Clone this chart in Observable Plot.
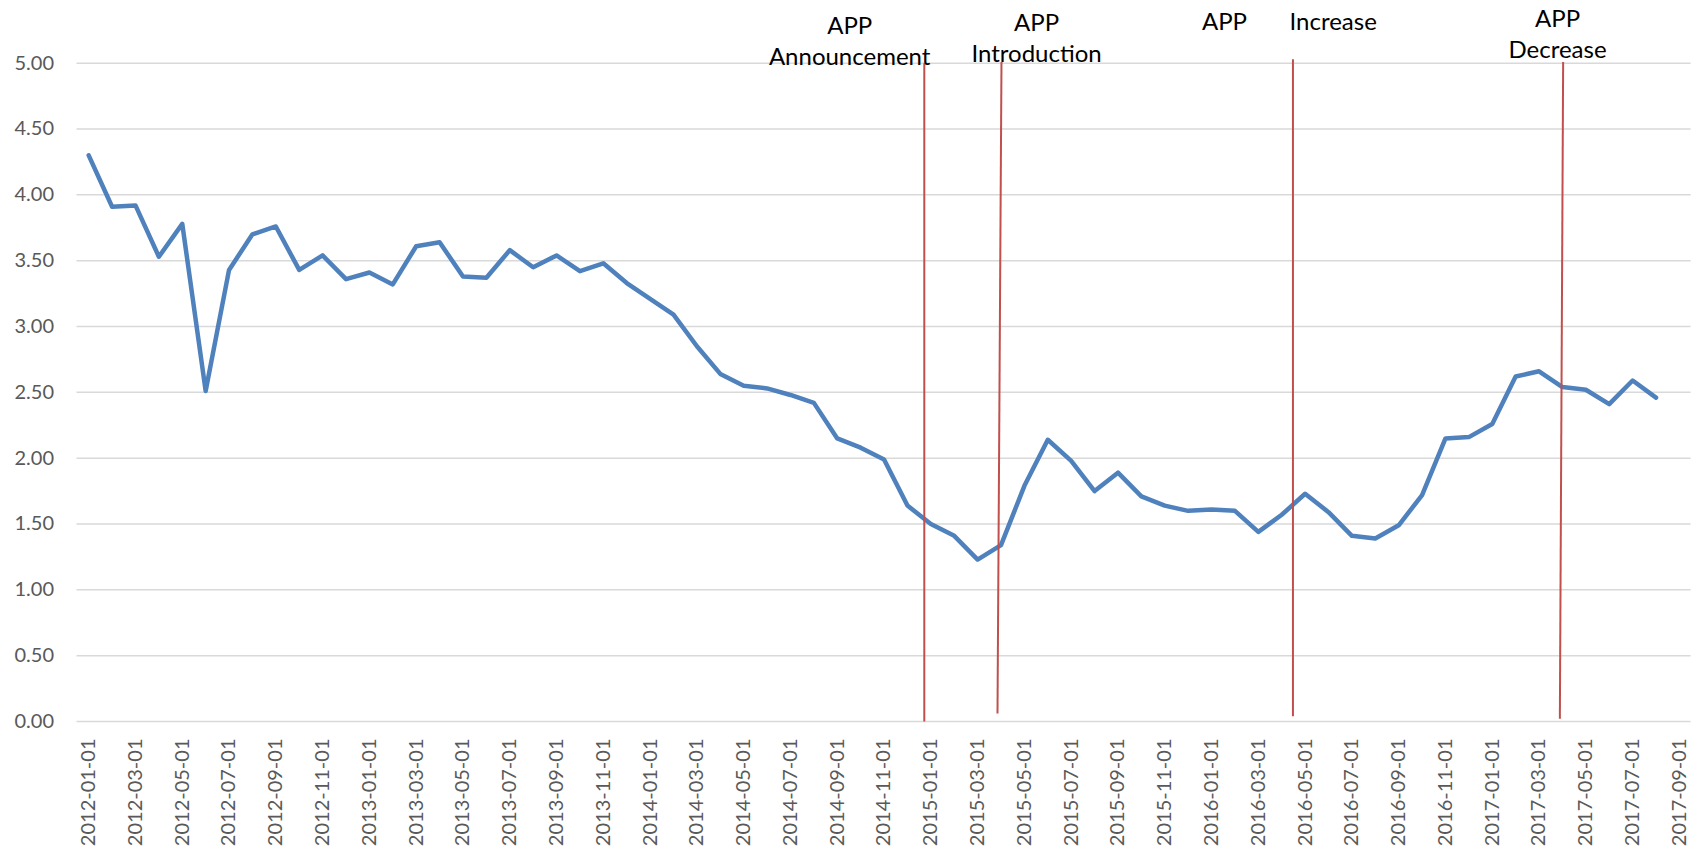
<!DOCTYPE html>
<html>
<head>
<meta charset="utf-8">
<script src="https://cdn.jsdelivr.net/npm/d3@7"></script>
<script src="https://cdn.jsdelivr.net/npm/@observablehq/plot@0.6"></script>
<style>
  html, body { margin: 0; padding: 0; background: #fff; }
  svg { display: block; }
</style>
</head>
<body>
<div id="chart"></div>
<script>
// Category labels (monthly, Excel text axis)
const months = [
  "2012-01-01","2012-02-01","2012-03-01","2012-04-01","2012-05-01","2012-06-01",
  "2012-07-01","2012-08-01","2012-09-01","2012-10-01","2012-11-01","2012-12-01",
  "2013-01-01","2013-02-01","2013-03-01","2013-04-01","2013-05-01","2013-06-01",
  "2013-07-01","2013-08-01","2013-09-01","2013-10-01","2013-11-01","2013-12-01",
  "2014-01-01","2014-02-01","2014-03-01","2014-04-01","2014-05-01","2014-06-01",
  "2014-07-01","2014-08-01","2014-09-01","2014-10-01","2014-11-01","2014-12-01",
  "2015-01-01","2015-02-01","2015-03-01","2015-04-01","2015-05-01","2015-06-01",
  "2015-07-01","2015-08-01","2015-09-01","2015-10-01","2015-11-01","2015-12-01",
  "2016-01-01","2016-02-01","2016-03-01","2016-04-01","2016-05-01","2016-06-01",
  "2016-07-01","2016-08-01","2016-09-01","2016-10-01","2016-11-01","2016-12-01",
  "2017-01-01","2017-02-01","2017-03-01","2017-04-01","2017-05-01","2017-06-01",
  "2017-07-01","2017-08-01","2017-09-01"
];

// Series values (2012-01 .. 2017-08)
const values = [
  4.30, 3.91, 3.92, 3.53, 3.78, 2.51, 3.43, 3.70, 3.76, 3.43, 3.54, 3.36,
  3.41, 3.32, 3.61, 3.64, 3.38, 3.37, 3.58, 3.45, 3.54, 3.42, 3.48, 3.33,
  3.21, 3.09, 2.85, 2.64, 2.55, 2.53, 2.48, 2.42, 2.15, 2.08, 1.99, 1.64,
  1.50, 1.41, 1.23, 1.34, 1.79, 2.14, 1.98, 1.75, 1.89, 1.71, 1.64, 1.60,
  1.61, 1.60, 1.44, 1.57, 1.73, 1.59, 1.41, 1.39, 1.49, 1.72, 2.15, 2.16,
  2.26, 2.62, 2.66, 2.54, 2.52, 2.41, 2.59, 2.46
];

// Y tick values
const yTicks = [0, 0.5, 1, 1.5, 2, 2.5, 3, 3.5, 4, 4.5, 5];

// Event markers (hand-drawn lines, in category-index / value units)
const eventLines = [
  {x1: 35.72, y1: 5.00, x2: 35.72, y2: 0.00},
  {x1: 39.02, y1: 5.01, x2: 38.85, y2: 0.06},
  {x1: 51.48, y1: 5.03, x2: 51.48, y2: 0.04},
  {x1: 63.03, y1: 5.01, x2: 62.89, y2: 0.02}
];

// Event labels
const eventLabels = [
  {text: "APP\nAnnouncement", x: 32.53, y: 5.18},
  {text: "APP\nIntroduction", x: 40.52, y: 5.20},
  {text: "APP", x: 48.55, y: 5.33},
  {text: "Increase", x: 53.20, y: 5.33},
  {text: "APP\nDecrease", x: 62.79, y: 5.23}
];

const data = values.map((v, i) => ({i, v}));
const labelIdx = months.map((_, i) => i).filter(i => i % 2 === 0);

const chart = Plot.plot({
  width: 1704,
  height: 851,
  marginLeft: 76.5,
  marginRight: 13.4,
  marginTop: 62.7,
  marginBottom: 130,
  style: {fontFamily: "Lato, 'Open Sans', sans-serif", fontSize: "20px", color: "#595959", background: "#fff"},
  x: {type: "linear", domain: [-0.5, months.length - 0.5]},
  y: {domain: [0, 5]},
  marks: [
    Plot.ruleY(yTicks, {stroke: "#d9d9d9", strokeWidth: 1.5}),
    Plot.axisY({ticks: yTicks, tickSize: 0, tickPadding: 23, tickFormat: d => d.toFixed(2), label: null}),
    Plot.axisX({ticks: labelIdx, tickSize: 0, tickPadding: 17, tickRotate: -90, tickFormat: i => months[i], label: null}),
    Plot.line(data, {x: "i", y: "v", stroke: "#4f81bd", strokeWidth: 4.5, strokeLinejoin: "round", strokeLinecap: "round"}),
    Plot.link(eventLines, {x1: "x1", y1: "y1", x2: "x2", y2: "y2", stroke: "#c0504d", strokeWidth: 2}),
    Plot.text(eventLabels, {x: "x", y: "y", text: "text", fill: "#000", fontSize: 24, lineHeight: 1.3})
  ]
});
document.getElementById("chart").appendChild(chart);
</script>
</body>
</html>
